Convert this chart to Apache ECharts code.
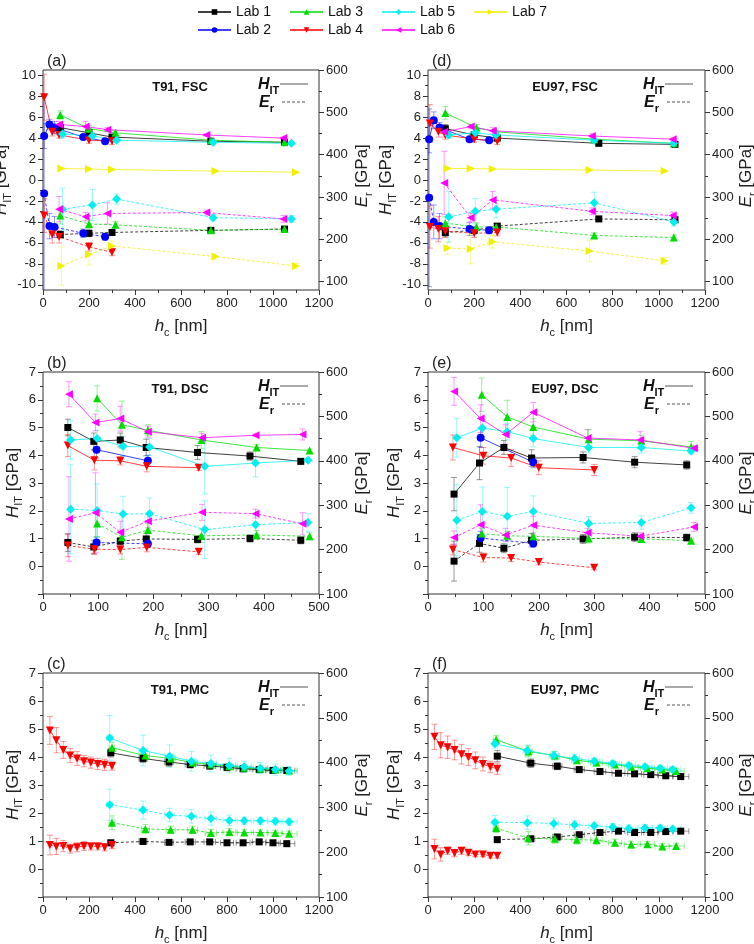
<!DOCTYPE html>
<html>
<head>
<meta charset="utf-8">
<script src="https://cdn.jsdelivr.net/npm/echarts@6/dist/echarts.min.js"></script>
<style>
  html, body { margin: 0; padding: 0; background: #fff; }
  #chart { width: 754px; height: 944px; }
</style>
</head>
<body>
<div id="chart"></div>
<script>
// labs, colours and markers
var labs = ['Lab 1', 'Lab 2', 'Lab 3', 'Lab 4', 'Lab 5', 'Lab 6', 'Lab 7'];
var labColors = ['#000000', '#0000ff', '#00dd00', '#ff0000', '#00f0f0', '#ff00ff', '#f0f000'];

// one row per lab (Lab 1 ... Lab 7), null = not measured
// x = contact depth hc [nm], H = HIT [GPa], He = error, E = Er [GPa], Ee = error

// (a) T91, FSC
var aX = [
  [75, 200, 300, 730, 1050],
  [5, 28, 50, 175, 270],
  [75, 200, 315, 730, 1050],
  [5, 40, 70, 200, 300],
  [85, 215, 320, 740, 1080],
  [70, 185, 280, 710, 1045],
  [80, 200, 300, 750, 1100]
];
var aH = [
  [5.0, 4.5, 4.1, 3.7, 3.6],
  [4.2, 5.3, 5.0, 4.1, 3.7],
  [6.2, 4.9, 4.5, 3.8, 3.6],
  [7.9, 4.6, 4.3, 3.8, 3.7],
  [4.4, 4.2, 3.8, 3.6, 3.5],
  [5.3, 5.1, 4.8, 4.3, 4.0],
  [1.1, 1.05, 1.0, 0.85, 0.75]
];
var aHe = [
  [0.3, 0.3, 0.2, 0.1, 0.1],
  [1.2, 0.5, 0.6, 0.2, 0.2],
  [0.4, 0.3, 0.2, 0.1, 0.1],
  [2.2, 0.4, 0.3, 0.3, 0.3],
  [0.4, 0.3, 0.2, 0.1, 0.1],
  [0.3, 0.5, 0.2, 0.1, 0.1],
  [0.1, 0.1, 0.1, 0.1, 0.1]
];
var aE = [
  [211, 214, 216, 221, 224],
  [308, 231, 229, 214, 206],
  [256, 236, 234, 221, 224],
  [256, 211, 206, 182, 169],
  [271, 281, 295, 251, 248],
  [271, 253, 261, 263, 248],
  [137, 164, 184, 159, 137]
];
var aEe = [
  [8, 8, 6, 6, 6],
  [230, 30, 25, 10, 8],
  [20, 10, 8, 6, 6],
  [40, 20, 15, 10, 8],
  [50, 37, 12, 8, 8],
  [30, 10, 25, 6, 8],
  [45, 25, 12, 8, 6]
];

// (b) T91, DSC
var bX = [
  [45, 92, 140, 187, 280, 375, 467],
  [97, 190],
  [98, 143, 190, 287, 387, 483],
  [45, 93, 140, 188, 282],
  [50, 98, 145, 193, 293, 385, 480],
  [47, 95, 140, 190, 288, 385, 470],
  null
];
var bH = [
  [5.0, 4.5, 4.55, 4.28, 4.1, 3.97, 3.78],
  [4.2, 3.8],
  [6.05, 5.1, 4.9, 4.55, 4.28, 4.17],
  [4.35, 3.82, 3.8, 3.6, 3.55],
  [4.55, 4.6, 4.32, 4.3, 3.6, 3.72, 3.82],
  [6.2, 5.18, 5.32, 4.85, 4.63, 4.72, 4.75],
  null
];
var bHe = [
  [0.3, 0.3, 0.25, 0.3, 0.25, 0.15, 0.1],
  [0.3, 0.2],
  [0.45, 0.85, 0.2, 0.3, 0.1, 0.05],
  [0.4, 0.35, 0.15, 0.2, 0.1],
  [0.7, 0.3, 0.35, 0.3, 1.0, 0.5, 0.05],
  [0.45, 0.3, 0.45, 0.2, 0.15, 0.05, 0.2],
  null
];
var bE = [
  [216, 206, 219, 224, 223, 225, 221],
  [216, 213],
  [259, 228, 244, 231, 233, 230],
  [209, 201, 200, 205, 195],
  [291, 288, 280, 281, 245, 256, 261],
  [269, 283, 239, 264, 284, 281, 258],
  null
];
var bEe = [
  [20, 15, 8, 12, 8, 8, 8],
  [12, 8],
  [30, 50, 15, 15, 10, 8],
  [25, 12, 10, 10, 6],
  [100, 60, 40, 35, 65, 20, 20],
  [95, 90, 25, 15, 18, 10, 25],
  null
];

// (c) T91, PMC
var cX = [
  [295, 435, 548, 640, 725, 800, 870, 940, 1000, 1060],
  null,
  [300, 445, 555, 650, 730, 810, 875, 945, 1010, 1070],
  [30, 58, 88, 118, 148, 178, 208, 238, 268, 300],
  [290, 435, 550, 645, 730, 810, 875, 945, 1010, 1070],
  null,
  null
];
var cXe = [
  [12, 18, 20, 22, 25, 28, 30, 30, 32, 35],
  null,
  [12, 18, 20, 22, 25, 28, 30, 30, 32, 35],
  [3, 3, 4, 4, 4, 5, 5, 5, 5, 5],
  [12, 18, 20, 22, 25, 28, 30, 30, 32, 35],
  null,
  null
];
var cH = [
  [4.15, 3.95, 3.82, 3.73, 3.68, 3.63, 3.58, 3.55, 3.52, 3.52],
  null,
  [4.33, 4.05, 3.95, 3.8, 3.73, 3.67, 3.62, 3.58, 3.55, 3.52],
  [4.95, 4.6, 4.25, 4.05, 3.95, 3.85, 3.8, 3.75, 3.72, 3.68],
  [4.68, 4.23, 4.03, 3.85, 3.77, 3.7, 3.65, 3.6, 3.55, 3.5],
  null,
  null
];
var cHe = [
  [0.15, 0.15, 0.15, 0.12, 0.12, 0.12, 0.1, 0.1, 0.1, 0.1],
  null,
  [0.2, 0.2, 0.15, 0.12, 0.12, 0.1, 0.1, 0.1, 0.1, 0.1],
  [0.5, 0.45, 0.3, 0.25, 0.25, 0.2, 0.2, 0.2, 0.2, 0.15],
  [0.8, 0.55, 0.4, 0.35, 0.3, 0.25, 0.2, 0.2, 0.2, 0.15],
  null,
  null
];
var cE = [
  [221, 224, 222, 223, 223, 221, 221, 223, 221, 219],
  null,
  [266, 252, 250, 250, 243, 245, 244, 244, 243, 241],
  [216, 213, 214, 208, 211, 214, 213, 213, 211, 216],
  [306, 294, 283, 280, 275, 271, 270, 270, 269, 268],
  null,
  null
];
var cEe = [
  [6, 6, 5, 5, 5, 5, 5, 5, 5, 5],
  null,
  [15, 10, 8, 8, 8, 8, 6, 6, 6, 6],
  [22, 18, 12, 10, 10, 10, 8, 8, 8, 8],
  [35, 20, 15, 15, 15, 12, 8, 8, 8, 8],
  null,
  null
];

// (d) EU97, FSC
var dX = [
  [75, 200, 300, 740, 1070],
  [5, 25, 50, 180, 265],
  [75, 210, 295, 720, 1065],
  [8, 45, 75, 200, 300],
  [90, 205, 295, 720, 1065],
  [70, 185, 280, 710, 1060],
  [85, 185, 280, 700, 1025]
];
var dH = [
  [4.9, 4.3, 4.0, 3.5, 3.4],
  [3.9, 5.7, 5.0, 3.9, 3.8],
  [6.4, 5.0, 4.6, 3.9, 3.5],
  [5.4, 4.6, 4.3, 3.9, 3.7],
  [4.3, 4.5, 4.3, 3.8, 3.5],
  [4.6, 5.1, 4.7, 4.2, 3.9],
  [1.1, 1.1, 1.05, 0.95, 0.85]
];
var dHe = [
  [0.4, 0.2, 0.2, 0.1, 0.1],
  [1.3, 0.8, 0.5, 0.2, 0.2],
  [0.6, 0.3, 0.2, 0.2, 0.1],
  [1.8, 0.5, 0.4, 0.3, 0.3],
  [0.3, 0.4, 0.3, 0.2, 0.1],
  [0.5, 0.2, 0.3, 0.2, 0.1],
  [0.1, 0.1, 0.1, 0.1, 0.1]
];
var dE = [
  [216, 221, 231, 248, 246],
  [298, 241, 231, 224, 221],
  [238, 229, 229, 209, 204],
  [229, 224, 219, 214, 216],
  [253, 266, 271, 286, 241],
  [333, 251, 293, 266, 256],
  [179, 177, 194, 172, 149]
];
var dEe = [
  [10, 8, 6, 6, 6],
  [210, 40, 30, 15, 8],
  [15, 10, 8, 6, 6],
  [50, 30, 15, 10, 8],
  [60, 30, 20, 25, 10],
  [75, 10, 20, 8, 8],
  [15, 35, 15, 25, 8]
];

// (e) EU97, DSC
var eX = [
  [47, 93, 137, 187, 280, 373, 467],
  [95, 190],
  [97, 143, 190, 290, 385, 475],
  [45, 100, 150, 200, 300],
  [52, 98, 143, 190, 290, 385, 475],
  [47, 95, 140, 190, 288, 383, 480],
  null
];
var eH = [
  [2.6, 3.72, 4.28, 3.9, 3.92, 3.75, 3.65],
  [4.63, 3.75],
  [6.18, 5.38, 5.02, 4.58, 4.52, 4.3],
  [4.28, 3.98, 3.9, 3.55, 3.47],
  [4.63, 4.98, 4.85, 4.6, 4.28, 4.28, 4.15],
  [6.3, 5.32, 4.75, 5.55, 4.62, 4.55, 4.25],
  null
];
var eHe = [
  [0.6, 0.6, 0.25, 0.3, 0.2, 0.2, 0.15],
  [0.35, 0.2],
  [0.6, 0.6, 0.3, 0.35, 0.2, 0.2],
  [0.45, 0.3, 0.3, 0.25, 0.2],
  [0.7, 0.3, 0.3, 0.3, 0.2, 0.2, 0.1],
  [0.5, 0.5, 0.35, 0.35, 0.3, 0.3, 0.1],
  null
];
var eE = [
  [174, 214, 203, 221, 224, 228, 227],
  [226, 214],
  [236, 231, 230, 225, 224, 220],
  [200, 182, 181, 172, 159],
  [266, 286, 275, 286, 259, 261, 294],
  [227, 256, 233, 255, 238, 230, 251],
  null
];
var eEe = [
  [45, 20, 10, 15, 10, 10, 8],
  [15, 8],
  [12, 10, 8, 10, 8, 6],
  [12, 10, 8, 6, 4],
  [80, 55, 65, 35, 15, 15, 12],
  [15, 45, 15, 20, 10, 8, 10],
  null
];

// (f) EU97, PMC
var fX = [
  [300, 445, 560, 655, 745, 825, 895, 965, 1030, 1095],
  null,
  [295, 435, 550, 645, 730, 810, 880, 950, 1015, 1075],
  [28, 55, 85, 115, 145, 175, 205, 238, 270, 300],
  [290, 430, 545, 635, 720, 800, 870, 940, 1005, 1060],
  null,
  null
];
var fXe = [
  [12, 18, 20, 22, 25, 28, 30, 30, 32, 35],
  null,
  [12, 18, 20, 22, 25, 28, 30, 30, 32, 35],
  [3, 3, 4, 4, 4, 5, 5, 5, 5, 5],
  [12, 18, 20, 22, 25, 28, 30, 30, 32, 35],
  null,
  null
];
var fH = [
  [4.03, 3.78, 3.67, 3.55, 3.48, 3.42, 3.4, 3.37, 3.33, 3.3],
  null,
  [4.62, 4.2, 4.05, 3.88, 3.8, 3.73, 3.65, 3.6, 3.55, 3.5],
  [4.72, 4.42, 4.35, 4.25, 4.1, 4.0, 3.88, 3.75, 3.65, 3.58],
  [4.47, 4.23, 4.05, 3.95, 3.85, 3.77, 3.7, 3.65, 3.6, 3.55],
  null,
  null
];
var fHe = [
  [0.2, 0.15, 0.12, 0.1, 0.1, 0.08, 0.08, 0.08, 0.08, 0.08],
  null,
  [0.15, 0.2, 0.15, 0.12, 0.12, 0.1, 0.1, 0.1, 0.1, 0.1],
  [0.45, 0.45, 0.4, 0.35, 0.35, 0.3, 0.3, 0.25, 0.2, 0.2],
  [0.15, 0.2, 0.15, 0.15, 0.12, 0.1, 0.1, 0.1, 0.1, 0.1],
  null,
  null
];
var fE = [
  [228, 230, 234, 239, 244, 247, 244, 244, 246, 247],
  null,
  [254, 231, 230, 228, 227, 221, 217, 218, 213, 214],
  [207, 195, 203, 198, 203, 199, 195, 195, 192, 192],
  [267, 266, 264, 261, 259, 256, 253, 254, 254, 252],
  null,
  null
];
var fEe = [
  [5, 5, 5, 5, 5, 5, 5, 5, 5, 5],
  null,
  [10, 15, 10, 10, 10, 8, 8, 6, 6, 6],
  [22, 15, 8, 8, 8, 6, 5, 5, 5, 5],
  [15, 15, 12, 10, 8, 8, 8, 8, 6, 6],
  null,
  null
];

(function () {
  var FONT = 'Liberation Sans, Arial, Helvetica, sans-serif';
  var AXIS = '#333';
  var chart = echarts.init(document.getElementById('chart'), null, { renderer: 'canvas' });

  // marker shapes: square, circle, up, down, diamond, left, right
  var symbols = [
    'rect', 'circle', 'triangle',
    'path://M0,0 L10,0 L5,9 Z',
    'diamond',
    'path://M9,0 L0,5 L9,10 Z',
    'path://M0,0 L9,5 L0,10 Z'
  ];
  var symbolSizes = [7, 8, 8, 8, 9, 8, 8];

  var colLeft = [43, 428];
  var colWidth = [276, 277];
  var rowTop = [70, 372, 673];
  var rowHeight = [220, 222, 224];

  var panels = [
    { letter: '(a)', title: 'T91, FSC', row: 0, col: 0, fsc: true, xmax: 1200, xint: 200, x: aX, h: aH, he: aHe, e: aE, ee: aEe, xe: null },
    { letter: '(b)', title: 'T91, DSC', row: 1, col: 0, fsc: false, xmax: 500, xint: 100, x: bX, h: bH, he: bHe, e: bE, ee: bEe, xe: null },
    { letter: '(c)', title: 'T91, PMC', row: 2, col: 0, fsc: false, xmax: 1200, xint: 200, x: cX, h: cH, he: cHe, e: cE, ee: cEe, xe: cXe },
    { letter: '(d)', title: 'EU97, FSC', row: 0, col: 1, fsc: true, xmax: 1200, xint: 200, x: dX, h: dH, he: dHe, e: dE, ee: dEe, xe: null },
    { letter: '(e)', title: 'EU97, DSC', row: 1, col: 1, fsc: false, xmax: 500, xint: 100, x: eX, h: eH, he: eHe, e: eE, ee: eEe, xe: null },
    { letter: '(f)', title: 'EU97, PMC', row: 2, col: 1, fsc: false, xmax: 1200, xint: 200, x: fX, h: fH, he: fHe, e: fE, ee: fEe, xe: fXe }
  ];

  var labelStyle = { color: '#222', fontSize: 13, fontFamily: FONT, margin: 7 };
  var tickStyle = { show: true, length: 5, lineStyle: { color: AXIS } };
  var minorStyle = { show: true, splitNumber: 2, length: 3, lineStyle: { color: AXIS } };
  var nameRich = {
    i: { fontStyle: 'italic', fontSize: 17, fontFamily: FONT, color: '#222', lineHeight: 24 },
    s: { fontSize: 11, fontFamily: FONT, color: '#222', verticalAlign: 'bottom', lineHeight: 24 },
    n: { fontSize: 17, fontFamily: FONT, color: '#222', lineHeight: 24 }
  };
  var hName = '{i|H}{s|IT}{n| [GPa]}';
  var eName = '{i|E}{s|r}{n| [GPa]}';
  var leftGap = [16, 22];
  var rightGap = [31, 20];

  var grids = [], xAxes = [], yAxes = [], series = [], graphics = [];

  function plain(v) { return String(v); }

  function visibleY(gi, pos, min, max, interval, name, gap, fmt) {
    return {
      type: 'value', gridIndex: gi, position: pos, min: min, max: max, interval: interval,
      axisLine: { show: false, onZero: false },
      axisTick: tickStyle, minorTick: minorStyle,
      splitLine: { show: false }, minorSplitLine: { show: false },
      axisLabel: Object.assign({ formatter: fmt || plain }, labelStyle),
      name: name, nameLocation: 'middle', nameGap: gap,
      nameTextStyle: { fontSize: 17, fontFamily: FONT, color: '#222', rich: nameRich }
    };
  }

  // main grids, one per panel (framed box)
  panels.forEach(function (p, pi) {
    var L = colLeft[p.col], T = rowTop[p.row], W = colWidth[p.col], H = rowHeight[p.row];
    p.rect = { L: L, T: T, W: W, H: H };
    grids.push({
      left: L, top: T, width: W, height: H, show: true, borderColor: AXIS, borderWidth: 1,
      backgroundColor: 'transparent', containLabel: false, outerBoundsMode: 'none'
    });
    xAxes.push({
      type: 'value', gridIndex: pi, min: 0, max: p.xmax, interval: p.xint,
      axisLine: { show: false, onZero: false },
      axisTick: tickStyle, minorTick: minorStyle,
      splitLine: { show: false }, minorSplitLine: { show: false },
      axisLabel: Object.assign({ formatter: plain }, labelStyle),
      name: '{i|h}{s|c}{n| [nm]}', nameLocation: 'middle', nameGap: 24,
      nameTextStyle: { fontSize: 17, fontFamily: FONT, color: '#222', rich: nameRich }
    });
    if (p.fsc) {
      // data axes span slightly beyond the labelled tick range
      yAxes.push({ type: 'value', gridIndex: pi, position: 'left', min: -10.5, max: 10.5, show: false, axisLine: { onZero: false } });
      yAxes.push({ type: 'value', gridIndex: pi, position: 'right', min: 80, max: 600, show: false, axisLine: { onZero: false } });
    } else {
      yAxes.push(visibleY(pi, 'left', -1, 7, 1, hName, leftGap[p.col], function (v) { return v < 0 ? '' : String(v); }));
      yAxes.push(visibleY(pi, 'right', 100, 600, 100, eName, rightGap[p.col]));
    }
  });

  // tick grids for the FSC panels (labelled ranges -10..10 and 100..600)
  panels.forEach(function (p) {
    if (!p.fsc) return;
    var r = p.rect;
    var gL = grids.length;
    grids.push({ left: r.L, top: r.T + r.H * 0.5 / 21, width: r.W, height: r.H * 20 / 21, show: false, outerBoundsMode: 'none' });
    xAxes.push({ type: 'value', gridIndex: gL, min: 0, max: 1, show: false });
    yAxes.push(visibleY(gL, 'left', -10, 10, 2, hName, leftGap[p.col]));
    var gR = grids.length;
    grids.push({ left: r.L, top: r.T, width: r.W, height: r.H * 500 / 520, show: false, outerBoundsMode: 'none' });
    xAxes.push({ type: 'value', gridIndex: gR, min: 0, max: 1, show: false });
    yAxes.push(visibleY(gR, 'right', 100, 600, 100, eName, rightGap[p.col]));
  });

  function renderErr(params, api) {
    var x = api.value(0), y = api.value(1), dy = api.value(2), dx = api.value(3);
    var style = { stroke: api.visual('color'), lineWidth: 1, opacity: 0.4 };
    var cap = 3, kids = [];
    if (dy > 0) {
      var lo = api.coord([x, y - dy]), hi = api.coord([x, y + dy]);
      kids.push({ type: 'line', shape: { x1: lo[0], y1: lo[1], x2: hi[0], y2: hi[1] }, style: style });
      kids.push({ type: 'line', shape: { x1: lo[0] - cap, y1: lo[1], x2: lo[0] + cap, y2: lo[1] }, style: style });
      kids.push({ type: 'line', shape: { x1: hi[0] - cap, y1: hi[1], x2: hi[0] + cap, y2: hi[1] }, style: style });
    }
    if (dx > 0) {
      var le = api.coord([x - dx, y]), ri = api.coord([x + dx, y]);
      kids.push({ type: 'line', shape: { x1: le[0], y1: le[1], x2: ri[0], y2: ri[1] }, style: style });
      kids.push({ type: 'line', shape: { x1: le[0], y1: le[1] - cap, x2: le[0], y2: le[1] + cap }, style: style });
      kids.push({ type: 'line', shape: { x1: ri[0], y1: ri[1] - cap, x2: ri[0], y2: ri[1] + cap }, style: style });
    }
    return { type: 'group', children: kids };
  }

  panels.forEach(function (p, pi) {
    labs.forEach(function (lab, i) {
      if (!p.x[i]) return;
      var xs = p.x[i];
      var hData = xs.map(function (xv, k) { return [xv, p.h[i][k]]; });
      var eData = xs.map(function (xv, k) { return [xv, p.e[i][k]]; });
      var base = {
        type: 'line', name: lab, xAxisIndex: pi, symbol: symbols[i], symbolSize: symbolSizes[i],
        itemStyle: { color: labColors[i] }, z: 4, animation: false
      };
      series.push(Object.assign({}, base, {
        yAxisIndex: 2 * pi, data: hData,
        lineStyle: { color: labColors[i], width: 1, opacity: 0.75, type: 'solid' }
      }));
      series.push(Object.assign({}, base, {
        yAxisIndex: 2 * pi + 1, data: eData,
        lineStyle: { color: labColors[i], width: 1, opacity: 0.75, type: [3, 2] }
      }));
      var hErr = xs.map(function (xv, k) { return [xv, p.h[i][k], p.he[i][k], p.xe ? p.xe[i][k] : 0]; });
      var eErr = xs.map(function (xv, k) { return [xv, p.e[i][k], p.ee[i][k], p.xe ? p.xe[i][k] : 0]; });
      [[hErr, 2 * pi], [eErr, 2 * pi + 1]].forEach(function (d) {
        series.push({
          type: 'custom', name: lab + ' err', xAxisIndex: pi, yAxisIndex: d[1], data: d[0],
          encode: { x: 0, y: 1 }, renderItem: renderErr, clip: true,
          itemStyle: { color: labColors[i] }, z: 2, animation: false, silent: true
        });
      });
    });

    // panel letter, title and the HIT / Er key inside the box
    var r = p.rect;
    graphics.push({
      type: 'text', x: r.L + 4, y: r.T - 8,
      style: { text: p.letter, fontSize: 16, fontFamily: FONT, fill: '#222', verticalAlign: 'middle' }
    });
    graphics.push({
      type: 'text', x: r.L + 137, y: r.T + 17,
      style: { text: p.title, fontSize: 13, fontWeight: 'bold', fontFamily: FONT, fill: '#111', align: 'center', verticalAlign: 'middle' }
    });
    var kx = r.L + 215;
    graphics.push({
      type: 'text', x: kx, y: r.T + 15,
      style: {
        text: '{h|H}{s|IT}', verticalAlign: 'middle',
        rich: {
          h: { fontSize: 16, fontWeight: 'bold', fontStyle: 'italic', fontFamily: FONT, fill: '#111', lineHeight: 22 },
          s: { fontSize: 11, fontWeight: 'bold', fontFamily: FONT, fill: '#111', verticalAlign: 'bottom', lineHeight: 22 }
        }
      }
    });
    graphics.push({
      type: 'line', shape: { x1: kx + 22, y1: r.T + 14, x2: kx + 50, y2: r.T + 14 },
      style: { stroke: '#555', lineWidth: 1 }
    });
    graphics.push({
      type: 'text', x: kx + 1, y: r.T + 33,
      style: {
        text: '{h|E}{s|r}', verticalAlign: 'middle',
        rich: {
          h: { fontSize: 16, fontWeight: 'bold', fontStyle: 'italic', fontFamily: FONT, fill: '#111', lineHeight: 22 },
          s: { fontSize: 11, fontWeight: 'bold', fontFamily: FONT, fill: '#111', verticalAlign: 'bottom', lineHeight: 22 }
        }
      }
    });
    graphics.push({
      type: 'line', shape: { x1: kx + 24, y1: r.T + 32, x2: kx + 48, y2: r.T + 32 },
      style: { stroke: '#555', lineWidth: 1, lineDash: [3, 2] }
    });
  });

  var legendBase = {
    left: 197, padding: 0, itemWidth: 33, itemHeight: 7, itemGap: 18, selectedMode: false,
    textStyle: { fontSize: 14, fontFamily: FONT, color: '#111' }
  };

  var option = {
    backgroundColor: '#fff',
    animation: false,
    legend: [
      Object.assign({ top: 5, data: ['Lab 1', 'Lab 3', 'Lab 5', 'Lab 7'] }, legendBase),
      Object.assign({ top: 23, data: ['Lab 2', 'Lab 4', 'Lab 6'] }, legendBase)
    ],
    grid: grids,
    xAxis: xAxes,
    yAxis: yAxes,
    series: series,
    graphic: graphics
  };
  chart.setOption(option);
  window.addEventListener('resize', function () {
    chart.resize();
  });
})();
</script>
</body>
</html>
